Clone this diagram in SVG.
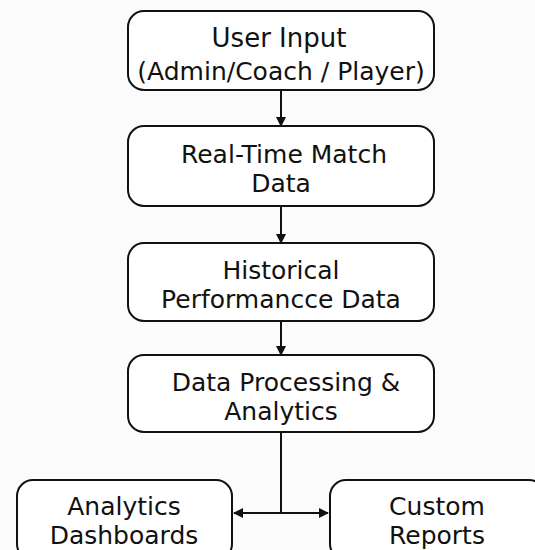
<svg xmlns="http://www.w3.org/2000/svg" width="535" height="550" viewBox="0 0 535 550">
<defs>
<marker id="ah" markerWidth="10" markerHeight="10" refX="9" refY="5" orient="auto" markerUnits="userSpaceOnUse">
<path d="M0,0 L10,5 L0,10 Z" fill="#111"/>
</marker>
<marker id="ahs" markerWidth="10" markerHeight="10" refX="1" refY="5" orient="auto" markerUnits="userSpaceOnUse">
<path d="M10,0 L0,5 L10,10 Z" fill="#111"/>
</marker>
</defs>
<style>
.box{fill:#fff;stroke:#111;stroke-width:2}
.t{font-family:"DejaVu Sans","Noto Sans",sans-serif;font-size:25px;fill:#111;text-anchor:middle}
.s{font-size:25px}
.c{stroke:#111;stroke-width:2;fill:none}
</style>
<rect width="535" height="550" fill="#fbfbfb"/>
<g id="connectors">
<line class="c" x1="281" y1="90" x2="281" y2="126" marker-end="url(#ah)"/>
<line class="c" x1="281" y1="206" x2="281" y2="243" marker-end="url(#ah)"/>
<line class="c" x1="281" y1="321" x2="281" y2="355" marker-end="url(#ah)"/>
<line class="c" x1="281" y1="432" x2="281" y2="513"/>
<line class="c" x1="234" y1="513" x2="328" y2="513" marker-start="url(#ahs)" marker-end="url(#ah)"/>
</g>
<g id="user-input">
<rect class="box" x="128" y="11" width="306" height="79" rx="16"/>
<text class="t" x="279" y="47" style="font-size:26px">User Input</text>
<text class="t s" x="281" y="80">(Admin/Coach / Player)</text>
</g>
<g id="realtime">
<rect class="box" x="128" y="126" width="306" height="80" rx="16"/>
<text class="t" x="284" y="163">Real-Time Match</text>
<text class="t" x="281" y="192">Data</text>
</g>
<g id="historical">
<rect class="box" x="128" y="243" width="306" height="78" rx="16"/>
<text class="t" x="281" y="279">Historical</text>
<text class="t" x="281" y="308">Performancce Data</text>
</g>
<g id="processing">
<rect class="box" x="128" y="355" width="306" height="77" rx="16"/>
<text class="t" x="286" y="391">Data Processing &amp;</text>
<text class="t" x="281" y="420">Analytics</text>
</g>
<g id="dashboards">
<rect class="box" x="17" y="480" width="215" height="80" rx="16"/>
<text class="t" x="124" y="515">Analytics</text>
<text class="t" x="124" y="544">Dashboards</text>
</g>
<g id="reports">
<rect class="box" x="330" y="480" width="215" height="80" rx="16"/>
<text class="t" x="437" y="515">Custom</text>
<text class="t" x="437" y="544">Reports</text>
</g>
</svg>
